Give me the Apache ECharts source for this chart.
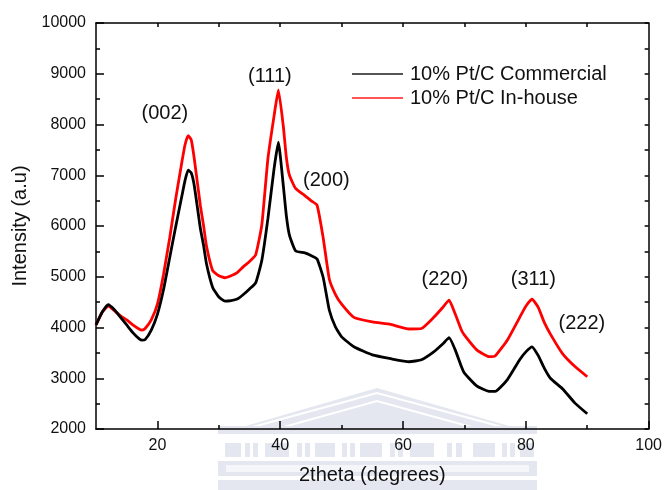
<!DOCTYPE html>
<html><head><meta charset="utf-8">
<script src="https://cdn.jsdelivr.net/npm/echarts@6/dist/echarts.min.js"></script>
<style>html,body{margin:0;padding:0;background:#fff}#c{width:665px;height:490px}</style>
</head><body><div id="c"></div>
<script>
// ---- data ----
const twoTheta   = [10, 11, 12, 13, 14, 15, 16, 17, 17.5, 18, 19, 20, 21, 22, 23, 24, 24.5, 25, 25.5, 26, 27, 27.5, 28, 29, 30, 31, 32, 33, 34, 35, 36, 37, 38, 39, 39.7, 40.5, 41, 41.5, 42.5, 44, 45, 46, 47, 48, 49, 50, 52, 55, 58, 61, 63, 65, 66.5, 67.5, 68.5, 69.5, 70, 72, 74, 75, 77, 79, 80, 81, 82, 83, 84, 86, 88, 90];
const commercial = [4050, 4300, 4450, 4350, 4200, 4050, 3900, 3780, 3750, 3760, 3950, 4260, 4750, 5375, 6000, 6600, 6900, 7100, 7050, 6800, 5950, 5630, 5250, 4790, 4600, 4520, 4530, 4560, 4650, 4760, 4880, 5320, 6150, 7130, 7650, 6800, 6200, 5820, 5510, 5470, 5420, 5350, 4985, 4340, 4010, 3815, 3620, 3460, 3385, 3325, 3365, 3520, 3680, 3800, 3560, 3230, 3100, 2850, 2740, 2740, 2975, 3365, 3520, 3620, 3450, 3200, 3000, 2790, 2510, 2300];
const inHouse    = [4050, 4300, 4420, 4330, 4230, 4150, 4050, 3970, 3950, 3980, 4150, 4460, 5050, 5765, 6550, 7270, 7600, 7780, 7700, 7330, 6400, 6020, 5600, 5120, 5020, 4980, 5020, 5080, 5200, 5300, 5430, 6020, 7330, 8170, 8680, 7970, 7350, 7000, 6740, 6600, 6500, 6410, 5765, 4950, 4650, 4460, 4200, 4110, 4060, 3970, 3980, 4200, 4400, 4540, 4265, 3950, 3850, 3560, 3425, 3440, 3755, 4200, 4420, 4560, 4400, 4100, 3870, 3480, 3230, 3030];
const seriesNames = ['10% Pt/C Commercial', '10% Pt/C In-house'];
const peakLabels = ['(002)', '(111)', '(200)', '(220)', '(311)', '(222)'];
const peakLabelX = [21.3, 38.4, 47.6, 66.9, 81.3, 89.2];
const peakLabelY = [8200, 8945, 6880, 4930, 4930, 4070];
const xLabelTicks = [20, 40, 60, 80, 100];
const xMinorTicks = [30, 50, 70, 90];
const xTopTicks = [20, 30, 40, 50, 60, 70, 80, 90];

const FONT = 'Liberation Sans, Arial, sans-serif';
const TXT = '#111';
const zip = (xs, ys) => xs.map((x, i) => [x, ys[i]]);

// faint watermark (decorative)
const wm = '#e4e7ef';
const wmGraphics = [
  {type: 'polygon', shape: {points: [[218, 434], [377, 388], [537, 434]]}, style: {fill: wm}},
  {type: 'polyline', shape: {points: [[238, 431], [377, 393], [517, 431]]}, style: {stroke: '#fff', lineWidth: 2, fill: null}},
  {type: 'polyline', shape: {points: [[262, 433], [377, 401], [493, 433]]}, style: {stroke: '#fff', lineWidth: 2, fill: null}},
  {type: 'rect', shape: {x: 218, y: 426, width: 319, height: 8}, style: {fill: wm}},
  {type: 'rect', shape: {x: 218, y: 461, width: 319, height: 15}, style: {fill: wm}},
  {type: 'rect', shape: {x: 226, y: 465, width: 303, height: 7}, style: {fill: '#f5f6f9'}},
  {type: 'rect', shape: {x: 218, y: 480, width: 319, height: 10}, style: {fill: wm}}
];
const cols = [[225, 16], [245, 5], [253, 5], [265, 24], [297, 5], [305, 5], [315, 20], [342, 5], [350, 5], [360, 22], [390, 5], [398, 5], [410, 24], [447, 5], [456, 6], [473, 22], [502, 5], [510, 5], [520, 14]];
cols.forEach(c => wmGraphics.push({type: 'rect', shape: {x: c[0], y: 443, width: c[1], height: 14}, style: {fill: wm}}));
wmGraphics.forEach(g => { g.z = -10; g.silent = true; });

const chart = echarts.init(document.getElementById('c'), null, {renderer: 'canvas'});
const axisLine = {show: true, onZero: false, lineStyle: {color: '#000', width: 1.5}};
const tickStyle = {color: '#000', width: 1.5};

chart.setOption({
  animation: false,
  backgroundColor: '#fff',
  graphic: wmGraphics,
  grid: {left: 96, right: 14, top: 23, bottom: 57},
  legend: {
    left: 347, top: 59, orient: 'vertical', itemWidth: 51, itemHeight: 2, itemGap: 4, icon: 'rect',
    textStyle: {fontSize: 20, color: TXT, fontFamily: FONT, lineHeight: 20, padding: [0, 0, 0, 2]},
    data: [{name: seriesNames[0], itemStyle: {color: '#555'}}, {name: seriesNames[1], itemStyle: {color: '#ff5555'}}]
  },
  xAxis: [
    {type: 'value', min: 10, max: 100, position: 'bottom', axisLine,
     axisTick: {show: true, inside: true, length: 8, customValues: xLabelTicks, lineStyle: tickStyle},
     axisLabel: {customValues: xLabelTicks, margin: 9, fontSize: 16, color: TXT, fontFamily: FONT, formatter: v => String(v)},
     splitLine: {show: false},
     name: '2theta (degrees)', nameLocation: 'middle', nameGap: 36,
     nameTextStyle: {fontSize: 20, color: TXT, fontFamily: FONT}},
    {type: 'value', min: 10, max: 100, position: 'bottom', axisLine: {show: false},
     axisTick: {show: true, inside: true, length: 4, customValues: xMinorTicks, lineStyle: tickStyle},
     axisLabel: {show: false}, splitLine: {show: false}},
    {type: 'value', min: 10, max: 100, position: 'top', axisLine,
     axisTick: {show: true, inside: true, length: 4, customValues: xTopTicks, lineStyle: tickStyle},
     axisLabel: {show: false}, splitLine: {show: false}}
  ],
  yAxis: [
    {type: 'value', min: 2000, max: 10000, interval: 1000, position: 'left', axisLine,
     axisTick: {show: true, inside: true, length: 8, lineStyle: tickStyle},
     minorTick: {show: true, splitNumber: 2, length: 4, lineStyle: tickStyle},
     axisLabel: {margin: 10, fontSize: 16, color: TXT, fontFamily: FONT, formatter: v => String(v)},
     splitLine: {show: false},
     name: 'Intensity (a.u)', nameLocation: 'middle', nameGap: 65, nameRotate: 90,
     nameTextStyle: {fontSize: 20, color: TXT, fontFamily: FONT}},
    {type: 'value', min: 2000, max: 10000, interval: 500, position: 'right', axisLine,
     axisTick: {show: true, inside: true, length: 4, lineStyle: tickStyle},
     axisLabel: {show: false}, splitLine: {show: false}}
  ],
  series: [
    {name: seriesNames[0], type: 'line', xAxisIndex: 0, yAxisIndex: 0, data: zip(twoTheta, commercial),
     symbol: 'none', smooth: 0.15, lineStyle: {color: '#000', width: 2.8}, itemStyle: {color: '#000'}, z: 3},
    {name: seriesNames[1], type: 'line', xAxisIndex: 0, yAxisIndex: 0, data: zip(twoTheta, inHouse),
     symbol: 'none', smooth: 0.15, lineStyle: {color: '#ff0000', width: 2.8}, itemStyle: {color: '#ff0000'}, z: 2},
    {name: 'peaks', type: 'scatter', xAxisIndex: 0, yAxisIndex: 0, silent: true, symbolSize: 1,
     itemStyle: {color: 'rgba(0,0,0,0)'},
     data: peakLabels.map((t, i) => ({name: t, value: [peakLabelX[i], peakLabelY[i]]})),
     label: {show: true, position: [0, 0], align: 'center', verticalAlign: 'middle', formatter: '{b}',
             fontSize: 20, color: TXT, opacity: 1, fontFamily: FONT}}
  ]
});
</script>
</body></html>
